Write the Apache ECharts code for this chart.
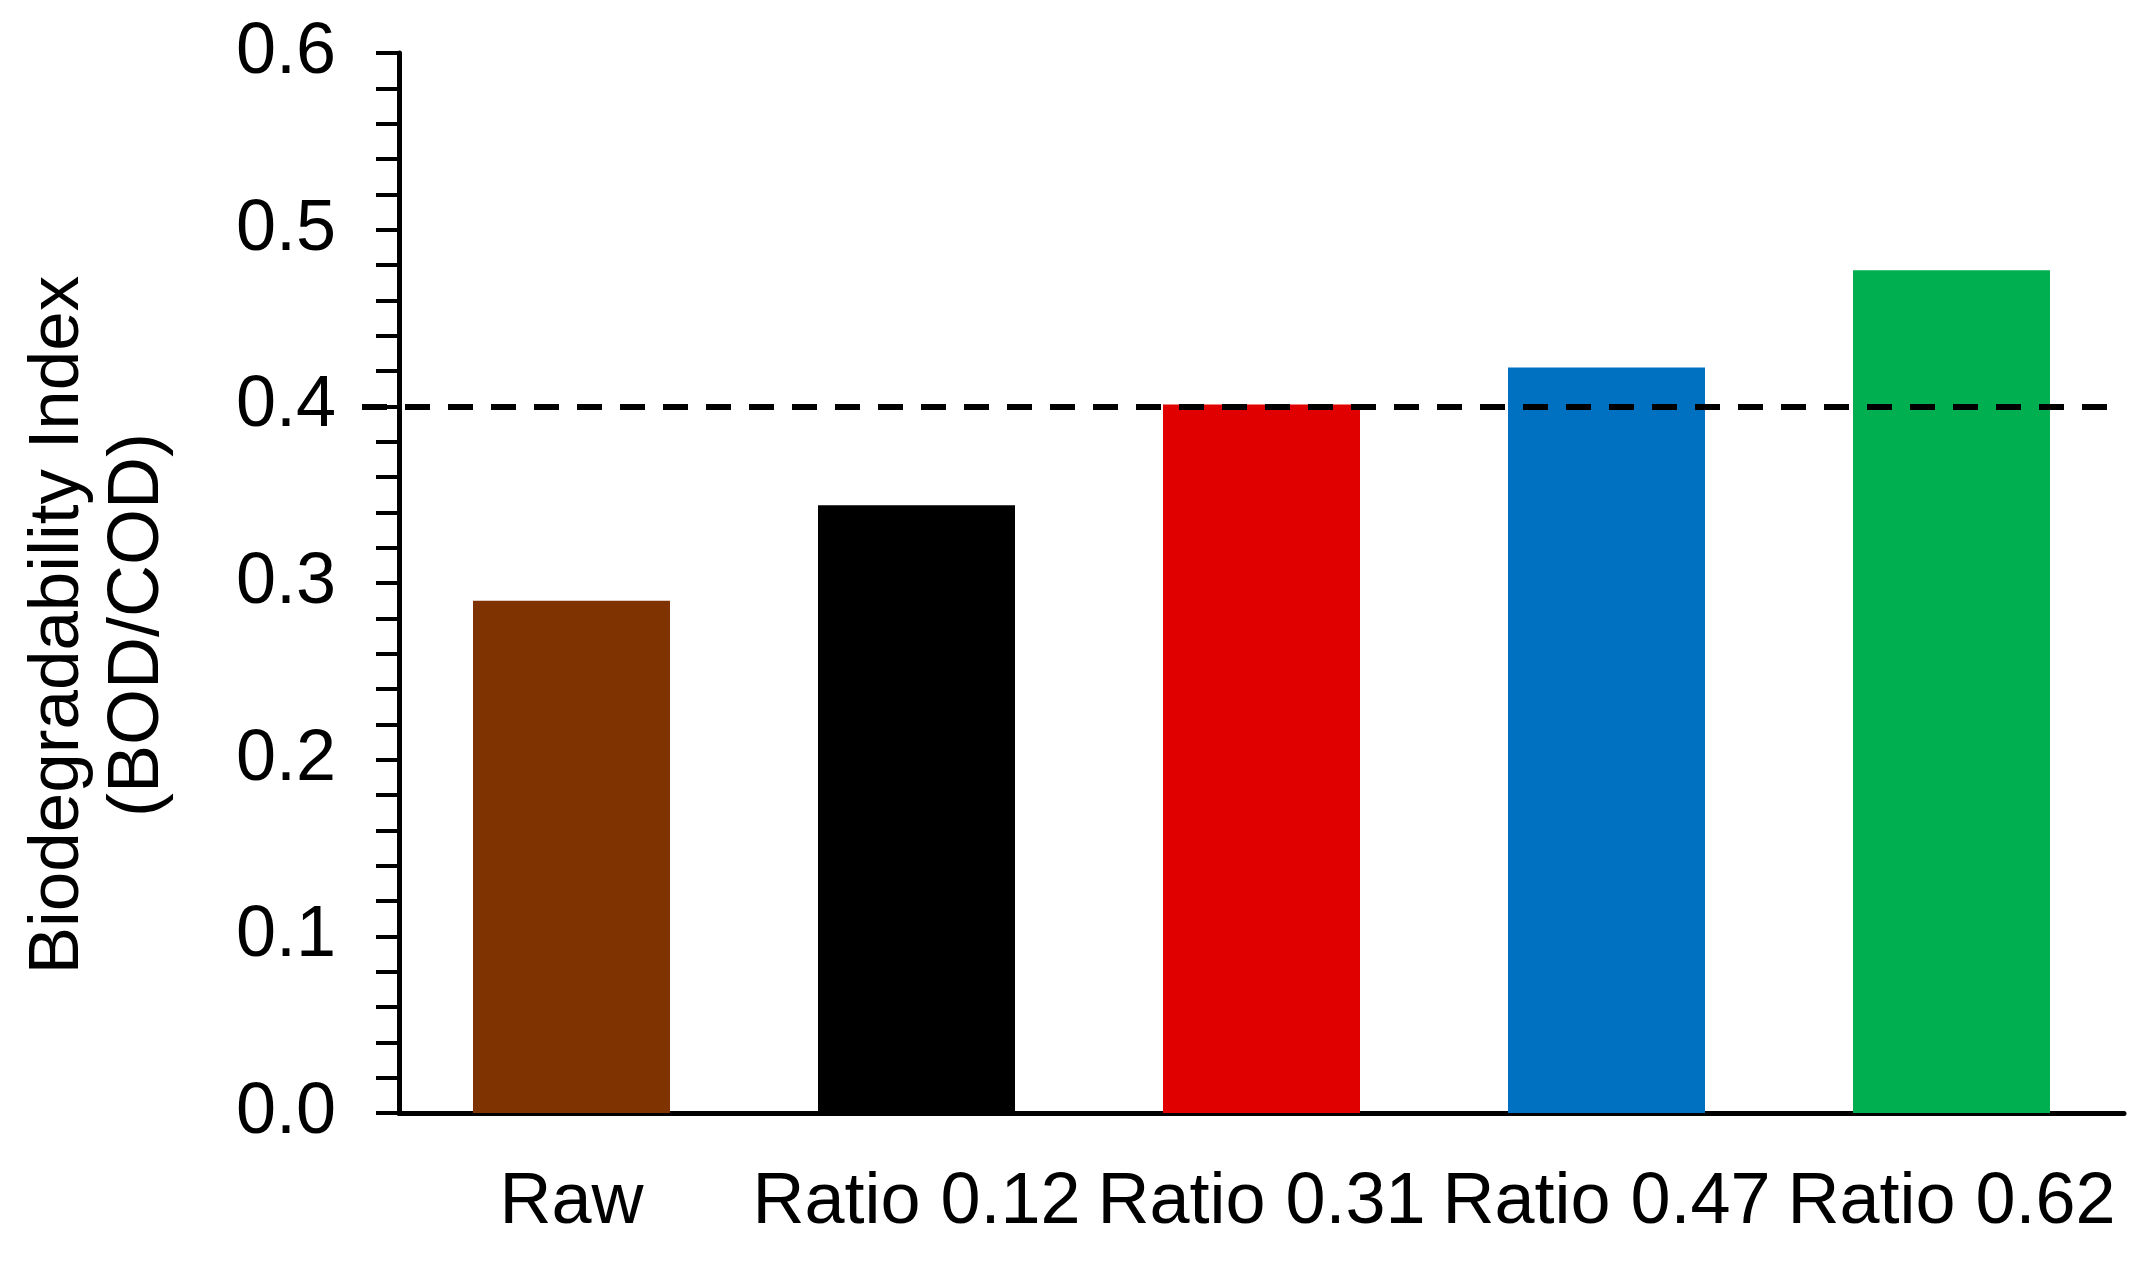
<!DOCTYPE html>
<html>
<head>
<meta charset="utf-8">
<script src="https://cdn.jsdelivr.net/npm/echarts@6/dist/echarts.min.js"></script>
<style>
html,body{margin:0;padding:0;background:#fff;}
#chart{width:2146px;height:1266px;}
</style>
</head>
<body>
<div id="chart"></div>
<script>
const categories = ['Raw', 'Ratio 0.12', 'Ratio 0.31', 'Ratio 0.47', 'Ratio 0.62'];
const values = [0.290, 0.344, 0.401, 0.422, 0.477];
const barColors = ['#7F3300', '#000000', '#E00000', '#0070C0', '#00B050'];
const thresholdValue = 0.4;
const yTitleLine1 = 'Biodegradability Index';
const yTitleLine2 = '(BOD/COD)';

const FONT = '"Liberation Sans", Arial, sans-serif';
const chart = echarts.init(document.getElementById('chart'), null, {renderer: 'canvas'});

chart.setOption({
  animation: false,
  backgroundColor: '#ffffff',
  grid: {left: 399, right: 22, top: 53, bottom: 153, containLabel: false},
  xAxis: {
    type: 'category',
    data: categories,
    axisLine: {show: true, lineStyle: {color: '#000', width: 5}},
    axisTick: {show: false},
    axisLabel: {color: '#000', fontSize: 72, fontFamily: FONT, margin: 54, interval: 0}
  },
  yAxis: {
    type: 'value',
    min: 0, max: 0.6, interval: 0.1,
    axisLine: {show: true, lineStyle: {color: '#000', width: 5}},
    axisTick: {show: true, inside: false, length: 23, lineStyle: {color: '#000', width: 4}},
    minorTick: {show: true, splitNumber: 5, length: 23, lineStyle: {color: '#000', width: 4}},
    splitLine: {show: false},
    axisLabel: {color: '#000', fontSize: 72, fontFamily: FONT, margin: 63,
      formatter: v => v.toFixed(1)}
  },
  series: [{
    type: 'bar',
    barWidth: 197,
    data: values.map((v, i) => ({value: v, itemStyle: {color: barColors[i]}})),
    markLine: {
      silent: true,
      symbol: ['none', 'none'],
      label: {show: false},
      lineStyle: {color: '#000', width: 6, type: [25, 18], cap: 'butt'},
      data: [[{x: 362, yAxis: thresholdValue}, {x: 2124, yAxis: thresholdValue}]]
    },
    z: 2
  }],
  graphic: [
    {type: 'text', x: 58, y: 625, rotation: Math.PI / 2,
      style: {text: yTitleLine1, font: '71px ' + FONT, fill: '#000', textAlign: 'center', textVerticalAlign: 'middle'}},
    {type: 'text', x: 138, y: 625, rotation: Math.PI / 2,
      style: {text: yTitleLine2, font: '72px ' + FONT, fill: '#000', textAlign: 'center', textVerticalAlign: 'middle'}}
  ]
});
</script>
</body>
</html>
